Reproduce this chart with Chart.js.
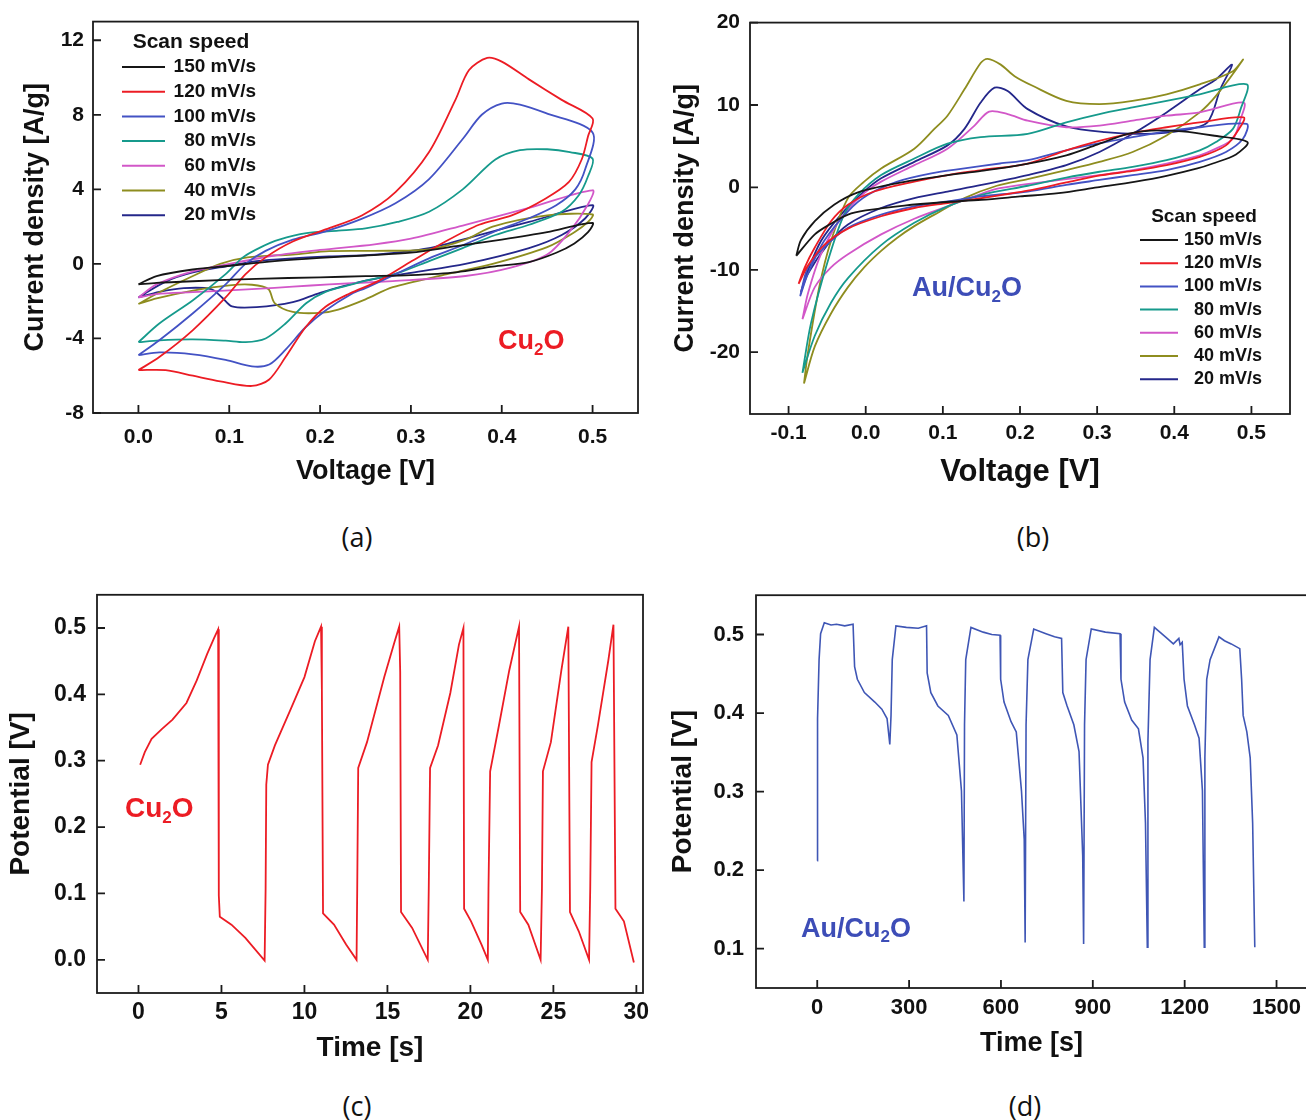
<!DOCTYPE html>
<html>
<head>
<meta charset="utf-8">
<script src="https://cdn.jsdelivr.net/npm/chart.js@4.4.0/dist/chart.umd.min.js"></script>
<style>
  html, body { margin: 0; padding: 0; background: #fff; }
  body { width: 1306px; height: 1120px; position: relative; overflow: hidden; }
  .panel { position: absolute; }
  .tag { position: absolute; font-family: "Open Sans", sans-serif; font-size: 27px; color: #111;
         transform: translate(-50%, -50%); }
</style>
</head>
<body>
<div class="panel" style="left:0;top:0"><canvas id="cvA" width="650" height="500"></canvas></div>
<div class="panel" style="left:650px;top:0"><canvas id="cvB" width="656" height="500"></canvas></div>
<div class="panel" style="left:0;top:570px"><canvas id="cvC" width="660" height="500"></canvas></div>
<div class="panel" style="left:660px;top:570px"><canvas id="cvD" width="648" height="500"></canvas></div>
<div class="tag" style="left:357px;top:536px">(a)</div>
<div class="tag" style="left:1033px;top:536px">(b)</div>
<div class="tag" style="left:357px;top:1105px">(c)</div>
<div class="tag" style="left:1025px;top:1105px">(d)</div>
<script>
const FONT = '"Liberation Sans", Arial, sans-serif';

// scan speeds shared by the two CV panels
const speeds = ['150 mV/s', '120 mV/s', '100 mV/s', '80 mV/s', '60 mV/s', '40 mV/s', '20 mV/s'];
const speedColors = ['#161616', '#ec1c24', '#4352c4', '#169a8c', '#d257c8', '#8e8d1f', '#24278a'];

// (a) Cu2O cyclic voltammetry, [V, A/g]
const cu150 = [[0,-1.1],[0.02,-0.65],[0.06,-0.3],[0.1,-0.1],[0.15,0.15],[0.2,0.32],[0.25,0.45],[0.3,0.6],[0.35,0.95],[0.4,1.3],[0.45,1.7],[0.5,2.2],[0.495,1.7],[0.48,1.1],[0.46,0.6],[0.43,0.1],[0.39,-0.15],[0.35,-0.45],[0.3,-0.6],[0.25,-0.66],[0.2,-0.72],[0.13,-0.8],[0.06,-0.93],[0.02,-1.02],[0,-1.1]];
const cu120 = [[0,-5.7],[0.023,-5.0],[0.06,-3.55],[0.096,-1.8],[0.118,-0.55],[0.14,0.35],[0.17,1.2],[0.206,1.85],[0.246,2.6],[0.283,3.85],[0.32,6.0],[0.349,8.8],[0.364,10.4],[0.384,11.05],[0.4,10.85],[0.43,9.9],[0.466,8.8],[0.5,7.8],[0.495,6.85],[0.488,5.6],[0.474,4.4],[0.448,3.5],[0.411,2.6],[0.375,2.1],[0.338,1.2],[0.301,0.15],[0.265,-0.9],[0.232,-1.6],[0.206,-2.3],[0.184,-3.4],[0.162,-5.0],[0.144,-6.2],[0.125,-6.55],[0.09,-6.3],[0.06,-6.0],[0.03,-5.7],[0,-5.7]];
const cu100 = [[0,-4.9],[0.023,-4.1],[0.06,-2.65],[0.096,-1.1],[0.118,0.0],[0.14,0.7],[0.17,1.3],[0.206,1.75],[0.245,2.4],[0.283,3.25],[0.32,4.55],[0.357,6.7],[0.378,8.0],[0.4,8.6],[0.42,8.55],[0.448,8.1],[0.5,7.05],[0.492,5.1],[0.481,4.0],[0.46,3.15],[0.43,2.45],[0.393,1.75],[0.357,1.0],[0.32,0.3],[0.283,-0.55],[0.25,-1.3],[0.235,-1.6],[0.206,-2.5],[0.184,-3.4],[0.162,-4.6],[0.144,-5.4],[0.125,-5.5],[0.096,-5.15],[0.06,-4.85],[0.023,-4.75],[0,-4.9]];
const cu80 = [[0,-4.2],[0.023,-3.2],[0.06,-1.95],[0.096,-0.55],[0.115,0.35],[0.135,0.9],[0.155,1.3],[0.185,1.65],[0.22,1.78],[0.25,1.9],[0.285,2.25],[0.32,2.8],[0.357,4.0],[0.393,5.6],[0.42,6.1],[0.45,6.15],[0.475,6.0],[0.5,5.65],[0.495,4.7],[0.485,3.7],[0.466,2.8],[0.43,2.1],[0.393,1.55],[0.357,0.85],[0.32,0.15],[0.285,-0.5],[0.255,-0.85],[0.235,-1.1],[0.206,-1.5],[0.185,-2.1],[0.162,-3.2],[0.14,-4.0],[0.118,-4.2],[0.096,-4.12],[0.06,-4.05],[0.023,-4.1],[0,-4.2]];
const cu60 = [[0,-1.8],[0.02,-1.1],[0.06,-0.4],[0.1,0.0],[0.15,0.45],[0.2,0.75],[0.26,1.05],[0.3,1.35],[0.36,2.1],[0.43,3.0],[0.5,3.95],[0.495,3.2],[0.475,1.75],[0.45,0.5],[0.41,-0.2],[0.36,-0.65],[0.28,-0.92],[0.21,-1.1],[0.17,-1.22],[0.13,-1.34],[0.06,-1.52],[0.02,-1.62],[0,-1.8]];
const cu40 = [[0,-2.15],[0.02,-1.6],[0.06,-0.65],[0.09,0.0],[0.12,0.35],[0.17,0.5],[0.21,0.68],[0.26,0.7],[0.32,0.78],[0.36,1.3],[0.39,2.0],[0.45,2.6],[0.5,2.65],[0.495,2.25],[0.48,1.7],[0.45,0.9],[0.39,0.0],[0.34,-0.55],[0.28,-1.25],[0.25,-1.9],[0.22,-2.45],[0.2,-2.63],[0.17,-2.58],[0.15,-2.1],[0.143,-1.35],[0.125,-1.12],[0.1,-1.15],[0.06,-1.43],[0.02,-1.85],[0,-2.15]];
const cu20 = [[0,-1.8],[0.03,-0.95],[0.06,-0.46],[0.1,-0.1],[0.13,0.15],[0.17,0.3],[0.21,0.4],[0.26,0.5],[0.32,0.85],[0.375,1.55],[0.43,2.25],[0.5,3.15],[0.492,2.45],[0.466,1.55],[0.43,0.85],[0.36,0.0],[0.3,-0.48],[0.25,-0.9],[0.2,-1.55],[0.17,-2.05],[0.13,-2.32],[0.103,-2.28],[0.092,-1.8],[0.08,-1.35],[0.05,-1.3],[0.023,-1.5],[0,-1.8]];
const cuLoops = [cu150, cu120, cu100, cu80, cu60, cu40, cu20];

// (b) Au/Cu2O cyclic voltammetry, [V, A/g]
const au150 = [[-0.09,-8.3],[-0.084,-6.4],[-0.066,-4.1],[-0.041,-2.1],[-0.01,-0.6],[0.04,0.5],[0.1,1.4],[0.15,2.0],[0.2,2.7],[0.26,3.9],[0.3,5.2],[0.34,6.5],[0.37,6.9],[0.41,6.8],[0.45,6.3],[0.495,5.5],[0.48,4.0],[0.45,2.9],[0.43,2.3],[0.39,1.4],[0.35,0.7],[0.3,0.0],[0.25,-0.7],[0.2,-1.1],[0.15,-1.5],[0.1,-1.8],[0.05,-2.2],[0.0,-2.8],[-0.023,-3.3],[-0.045,-4.4],[-0.066,-5.7],[-0.09,-8.3]];
const au120 = [[-0.087,-11.7],[-0.079,-9.7],[-0.066,-7.3],[-0.045,-4.1],[-0.023,-2.1],[0.011,-0.5],[0.063,0.7],[0.106,1.5],[0.15,2.1],[0.21,2.9],[0.26,4.5],[0.3,5.6],[0.346,6.6],[0.39,7.3],[0.433,7.9],[0.49,8.5],[0.484,7.1],[0.467,5.1],[0.433,3.7],[0.39,2.7],[0.346,2.0],[0.3,1.4],[0.26,0.6],[0.21,-0.4],[0.15,-1.3],[0.106,-1.9],[0.063,-2.5],[0.02,-3.5],[-0.023,-5.0],[-0.054,-7.0],[-0.075,-9.5],[-0.087,-11.7]];
const au100 = [[-0.085,-13.2],[-0.075,-10.5],[-0.054,-6.5],[-0.023,-2.9],[0.003,-0.9],[0.041,0.7],[0.085,1.7],[0.128,2.3],[0.174,2.9],[0.21,3.3],[0.26,4.5],[0.3,5.3],[0.346,6.1],[0.39,6.8],[0.433,7.3],[0.494,7.7],[0.489,5.9],[0.467,4.3],[0.433,3.1],[0.39,2.1],[0.346,1.5],[0.303,0.9],[0.26,0.3],[0.21,-0.5],[0.149,-1.1],[0.106,-1.7],[0.063,-2.3],[0.02,-3.3],[-0.023,-4.9],[-0.054,-7.3],[-0.075,-9.7],[-0.085,-13.2]];
const au80 = [[-0.082,-22.5],[-0.071,-16.5],[-0.049,-8.9],[-0.028,-3.3],[-0.01,-0.9],[0.02,1.5],[0.063,3.5],[0.106,5.3],[0.149,6.1],[0.21,6.5],[0.26,7.9],[0.303,8.9],[0.346,9.7],[0.39,10.5],[0.433,11.3],[0.494,12.5],[0.486,9.5],[0.476,7.1],[0.454,5.5],[0.433,4.5],[0.39,3.3],[0.346,2.5],[0.303,1.9],[0.26,1.2],[0.21,0.2],[0.15,-0.9],[0.106,-2.3],[0.063,-4.3],[0.02,-7.0],[-0.023,-11.0],[-0.045,-14.0],[-0.066,-18.0],[-0.082,-22.5]];
const au60 = [[-0.082,-16.0],[-0.075,-12.9],[-0.058,-8.1],[-0.032,-3.7],[-0.002,-0.7],[0.02,0.7],[0.063,2.7],[0.106,4.7],[0.141,7.5],[0.16,9.2],[0.184,8.9],[0.21,8.1],[0.26,7.3],[0.303,7.5],[0.346,8.1],[0.39,8.7],[0.433,9.1],[0.49,10.3],[0.486,8.3],[0.476,5.9],[0.454,4.7],[0.433,3.9],[0.39,2.9],[0.346,2.1],[0.303,1.5],[0.217,0.5],[0.174,-0.1],[0.149,-0.8],[0.106,-2.3],[0.063,-3.8],[0.02,-5.7],[-0.023,-8.1],[-0.045,-9.7],[-0.066,-12.1],[-0.082,-16.0]];
const au40 = [[-0.08,-23.8],[-0.075,-20.1],[-0.06,-12.0],[-0.045,-6.5],[-0.023,-1.3],[-0.002,0.7],[0.02,2.3],[0.063,4.7],[0.089,7.1],[0.106,8.7],[0.128,11.9],[0.149,15.1],[0.158,15.6],[0.175,14.9],[0.193,13.5],[0.217,12.3],[0.26,10.5],[0.303,10.1],[0.346,10.5],[0.39,11.3],[0.433,12.5],[0.476,14.1],[0.489,15.5],[0.454,11.1],[0.433,9.1],[0.39,6.3],[0.346,4.3],[0.303,3.1],[0.26,2.1],[0.21,1.0],[0.17,0.2],[0.128,-1.3],[0.089,-3.3],[0.063,-4.7],[0.041,-6.1],[0.02,-7.7],[-0.002,-9.7],[-0.023,-12.1],[-0.045,-15.3],[-0.066,-19.3],[-0.08,-23.8]];
const au20 = [[-0.084,-12.7],[-0.075,-10.1],[-0.058,-6.5],[-0.032,-3.3],[-0.002,-0.5],[0.02,1.1],[0.063,3.1],[0.106,5.1],[0.128,7.1],[0.149,10.3],[0.167,12.1],[0.184,11.7],[0.21,9.5],[0.26,7.4],[0.31,6.7],[0.36,6.5],[0.41,6.9],[0.443,7.9],[0.46,12.0],[0.475,14.9],[0.454,13.1],[0.433,11.9],[0.39,9.1],[0.346,6.5],[0.303,4.3],[0.26,2.7],[0.21,1.5],[0.15,0.3],[0.106,-0.5],[0.063,-1.3],[0.02,-2.5],[-0.023,-4.5],[-0.049,-6.9],[-0.075,-10.5],[-0.084,-12.7]];
const auLoops = [au150, au120, au100, au80, au60, au40, au20];

// (c) Cu2O charge/discharge, [s, V]
const cuGcd = [[0.1,0.294],[0.38,0.313],[0.79,0.333],[1.42,0.348],[2.05,0.362],[2.89,0.387],[3.51,0.421],[4.14,0.461],[4.56,0.485],[4.8,0.498],[4.83,0.333],[4.85,0.097],[4.9,0.065],[5.6,0.053],[6.44,0.033],[7.6,-0.001],[7.66,0.107],[7.7,0.264],[7.8,0.294],[8.22,0.323],[9.16,0.377],[10.0,0.426],[10.63,0.48],[11.0,0.502],[11.05,0.407],[11.12,0.07],[11.78,0.053],[12.51,0.023],[13.14,0.0],[13.18,0.107],[13.24,0.289],[13.77,0.328],[14.81,0.426],[15.44,0.48],[15.71,0.502],[15.77,0.434],[15.82,0.072],[16.49,0.048],[17.43,0.0],[17.49,0.107],[17.57,0.289],[18.05,0.323],[18.79,0.402],[19.31,0.475],[19.58,0.5],[19.62,0.077],[20.04,0.058],[20.67,0.023],[21.05,0.0],[21.09,0.107],[21.19,0.284],[21.72,0.353],[22.34,0.436],[22.93,0.502],[23.0,0.072],[23.49,0.053],[24.23,0.0],[24.31,0.107],[24.37,0.284],[24.85,0.328],[25.48,0.436],[25.9,0.502],[26.0,0.072],[26.53,0.043],[27.15,0.0],[27.22,0.107],[27.3,0.298],[27.68,0.353],[28.31,0.451],[28.62,0.505],[28.74,0.077],[29.25,0.058],[29.85,-0.004]];

// (d) Au/Cu2O charge/discharge, [s, V]
const auGcd = [[0,0.212],[1,0.393],[6,0.468],[11,0.501],[23,0.515],[45,0.512],[63,0.513],[90,0.511],[117,0.513],[122,0.459],[131,0.443],[154,0.426],[188,0.414],[211,0.405],[228,0.393],[237,0.36],[241,0.397],[245,0.468],[257,0.511],[291,0.509],[330,0.508],[357,0.511],[359,0.451],[371,0.426],[394,0.409],[428,0.397],[456,0.372],[471,0.301],[479,0.16],[481,0.385],[485,0.468],[502,0.509],[542,0.503],[570,0.5],[597,0.499],[599,0.443],[610,0.414],[633,0.389],[650,0.376],[667,0.301],[676,0.239],[679,0.108],[682,0.385],[688,0.468],[707,0.507],[747,0.501],[775,0.497],[798,0.495],[802,0.426],[816,0.409],[838,0.385],[855,0.351],[867,0.218],[870,0.106],[873,0.385],[878,0.468],[895,0.507],[941,0.503],[989,0.501],[992,0.443],[1004,0.414],[1027,0.391],[1049,0.38],[1064,0.343],[1072,0.26],[1078,0.102],[1080,0.364],[1087,0.468],[1101,0.509],[1140,0.496],[1163,0.488],[1181,0.495],[1185,0.487],[1192,0.49],[1198,0.443],[1209,0.409],[1232,0.385],[1247,0.368],[1258,0.301],[1264,0.102],[1266,0.343],[1272,0.443],[1283,0.468],[1312,0.497],[1330,0.492],[1352,0.488],[1380,0.482],[1386,0.443],[1391,0.397],[1403,0.376],[1414,0.343],[1422,0.26],[1429,0.102]];

// tick values
const aXTicks = [0, 0.1, 0.2, 0.3, 0.4, 0.5];
const aYTicks = [-8, -4, 0, 4, 8, 12];
const bXTicks = [-0.1, 0, 0.1, 0.2, 0.3, 0.4, 0.5];
const bYTicks = [-20, -10, 0, 10, 20];
const cXTicks = [0, 5, 10, 15, 20, 25, 30];
const cYTicks = [0, 0.1, 0.2, 0.3, 0.4, 0.5];
const dXTicks = [0, 300, 600, 900, 1200, 1500];
const dYTicks = [0.1, 0.2, 0.3, 0.4, 0.5];

const toXY = arr => arr.map(p => ({ x: p[0], y: p[1] }));

// box around the plot area plus inward tick marks on left/bottom
const framePlugin = {
  id: 'frame',
  afterDraw(chart) {
    const { ctx, chartArea: a, scales: { x, y } } = chart;
    ctx.save();
    ctx.strokeStyle = '#1b1b1b';
    ctx.lineWidth = 1.8;
    ctx.strokeRect(a.left, a.top, a.right - a.left, a.bottom - a.top);
    ctx.beginPath();
    x.ticks.forEach(t => {
      const px = x.getPixelForValue(t.value);
      ctx.moveTo(px, a.bottom); ctx.lineTo(px, a.bottom - 8);
    });
    y.ticks.forEach(t => {
      const py = y.getPixelForValue(t.value);
      ctx.moveTo(a.left, py); ctx.lineTo(a.left + 8, py);
    });
    ctx.stroke();
    ctx.restore();
  }
};

// "Scan speed" legend with right-aligned labels
const scanLegend = {
  id: 'scanLegend',
  afterDraw(chart, args, o) {
    if (!o.show) return;
    const ctx = chart.ctx;
    ctx.save();
    ctx.fillStyle = '#111';
    ctx.textBaseline = 'middle';
    ctx.textAlign = 'center';
    ctx.font = `bold ${o.titleSize}px ${FONT}`;
    ctx.fillText('Scan speed', o.titleX, o.titleY);
    ctx.font = `bold ${o.size}px ${FONT}`;
    ctx.textAlign = 'right';
    chart.data.datasets.forEach((ds, i) => {
      const yy = o.rowY + i * o.rowGap;
      ctx.strokeStyle = ds.borderColor;
      ctx.lineWidth = 2;
      ctx.beginPath(); ctx.moveTo(o.lineX0, yy); ctx.lineTo(o.lineX1, yy); ctx.stroke();
      ctx.fillText(ds.label, o.textRight, yy);
    });
    ctx.restore();
  }
};

// sample name with subscript, anchored in data coordinates
const formulaTag = {
  id: 'formulaTag',
  afterDraw(chart, args, o) {
    const { ctx, scales: { x, y } } = chart;
    let px = x.getPixelForValue(o.x);
    const py = y.getPixelForValue(o.y);
    ctx.save();
    ctx.fillStyle = o.color;
    ctx.textBaseline = 'middle';
    ctx.textAlign = 'left';
    ctx.font = `bold ${o.size}px ${FONT}`;
    ctx.fillText(o.before, px, py);
    px += ctx.measureText(o.before).width;
    ctx.font = `bold ${Math.round(o.size * 0.62)}px ${FONT}`;
    ctx.fillText(o.sub, px, py + o.size * 0.32);
    px += ctx.measureText(o.sub).width;
    ctx.font = `bold ${o.size}px ${FONT}`;
    ctx.fillText(o.after, px, py);
    ctx.restore();
  }
};

function scaleOpts(s) {
  return {
    x: {
      type: 'linear', min: s.xMin, max: s.xMax,
      afterBuildTicks: sc => { sc.ticks = s.xTicks.map(v => ({ value: v })); },
      afterFit: sc => { sc.height = s.xH; },
      grid: { display: false, drawTicks: false, tickLength: 0 },
      border: { display: false },
      ticks: { padding: s.xPad, color: '#111', autoSkip: false, maxRotation: 0,
               font: { family: FONT, size: s.tick, weight: 'bold' }, callback: s.xFmt },
      title: { display: true, text: s.xTitle, color: '#111',
               font: { family: FONT, size: s.xTitleSize, weight: 'bold' }, padding: { top: 0, bottom: s.xTitlePad } }
    },
    y: {
      type: 'linear', min: s.yMin, max: s.yMax,
      afterBuildTicks: sc => { sc.ticks = s.yTicks.map(v => ({ value: v })); },
      afterFit: sc => { sc.width = s.yW; },
      grid: { display: false, drawTicks: false, tickLength: 0 },
      border: { display: false },
      ticks: { padding: s.yPad, color: '#111', autoSkip: false,
               font: { family: FONT, size: s.tick, weight: 'bold' }, callback: s.yFmt },
      title: { display: true, text: s.yTitle, color: '#111',
               font: { family: FONT, size: s.yTitleSize, weight: 'bold' }, padding: { top: s.yTitlePad, bottom: 0 } }
    }
  };
}

function makeChart(id, datasets, s, legend, tag) {
  new Chart(document.getElementById(id), {
    type: 'scatter',
    data: { datasets },
    options: {
      responsive: false,
      animation: false,
      events: [],
      layout: { padding: { top: s.top, right: s.right, left: 0, bottom: 0 } },
      scales: scaleOpts(s),
      plugins: {
        legend: { display: false },
        tooltip: { enabled: false },
        scanLegend: legend,
        formulaTag: tag
      }
    },
    plugins: [framePlugin, scanLegend, formulaTag]
  });
}

// one closed loop per scan speed, legend order 150 -> 20
const cvDatasets = loops => loops.map((l, i) => ({
  label: speeds[i], data: toXY(l), showLine: true, pointRadius: 0,
  borderColor: speedColors[i], borderWidth: 1.8, tension: 0.3, fill: false
}));

makeChart('cvA', cvDatasets(cuLoops), {
  xMin: -0.05, xMax: 0.55, yMin: -8, yMax: 13, xTicks: aXTicks, yTicks: aYTicks,
  top: 17, right: 12, xH: 87, yW: 93, tick: 21, xPad: 12, yPad: 9,
  xTitle: 'Voltage [V]', xTitleSize: 27, xTitlePad: 12,
  yTitle: 'Current density [A/g]', yTitleSize: 27, yTitlePad: 19,
  xFmt: v => v.toFixed(1), yFmt: v => String(v)
}, { show: true, titleSize: 21, size: 19, titleX: 191, titleY: 42, rowY: 67, rowGap: 24.7,
     lineX0: 122, lineX1: 165, textRight: 256 },
   { x: 0.396, y: -4.18, color: '#ec1c24', size: 27, before: 'Cu', sub: '2', after: 'O' });

makeChart('cvB', cvDatasets(auLoops), {
  xMin: -0.15, xMax: 0.55, yMin: -27.5, yMax: 20, xTicks: bXTicks, yTicks: bYTicks,
  top: 18, right: 16, xH: 86, yW: 100, tick: 21, xPad: 7, yPad: 10,
  xTitle: 'Voltage [V]', xTitleSize: 31, xTitlePad: 9,
  yTitle: 'Current density [A/g]', yTitleSize: 27, yTitlePad: 19,
  xFmt: v => v.toFixed(1), yFmt: v => String(v)
}, { show: true, titleSize: 19, size: 18, titleX: 554, titleY: 217, rowY: 240, rowGap: 23.2,
     lineX0: 490, lineX1: 528, textRight: 612 },
   { x: 0.06, y: -12.25, color: '#3d4db7', size: 27, before: 'Au/Cu', sub: '2', after: 'O' });

makeChart('cvC', [{
  label: 'Cu2O', data: toXY(cuGcd), showLine: true, pointRadius: 0,
  borderColor: '#ec1c24', borderWidth: 1.8, tension: 0, fill: false
}], {
  xMin: -2.5, xMax: 30.4, yMin: -0.05, yMax: 0.55, xTicks: cXTicks, yTicks: cYTicks,
  top: 16, right: 17, xH: 77, yW: 97, tick: 23, xPad: 6, yPad: 11,
  xTitle: 'Time [s]', xTitleSize: 28, xTitlePad: 5,
  yTitle: 'Potential [V]', yTitleSize: 28, yTitlePad: 4,
  xFmt: v => String(v), yFmt: v => v.toFixed(1)
}, { show: false },
   { x: -0.81, y: 0.227, color: '#ec1c24', size: 28, before: 'Cu', sub: '2', after: 'O' });

makeChart('cvD', [{
  label: 'Au/Cu2O', data: toXY(auGcd), showLine: true, pointRadius: 0,
  borderColor: '#3f56b5', borderWidth: 1.6, tension: 0, fill: false
}], {
  xMin: -200, xMax: 1600, yMin: 0.05, yMax: 0.55, xTicks: dXTicks, yTicks: dYTicks,
  top: 16, right: 0, xH: 82, yW: 96, tick: 22, xPad: 7, yPad: 12,
  xTitle: 'Time [s]', xTitleSize: 27, xTitlePad: 10,
  yTitle: 'Potential [V]', yTitleSize: 28, yTitlePad: 6,
  xFmt: v => String(v), yFmt: v => v.toFixed(1)
}, { show: false },
   { x: -53, y: 0.125, color: '#3d4db7', size: 27, before: 'Au/Cu', sub: '2', after: 'O' });
</script>
</body>
</html>
